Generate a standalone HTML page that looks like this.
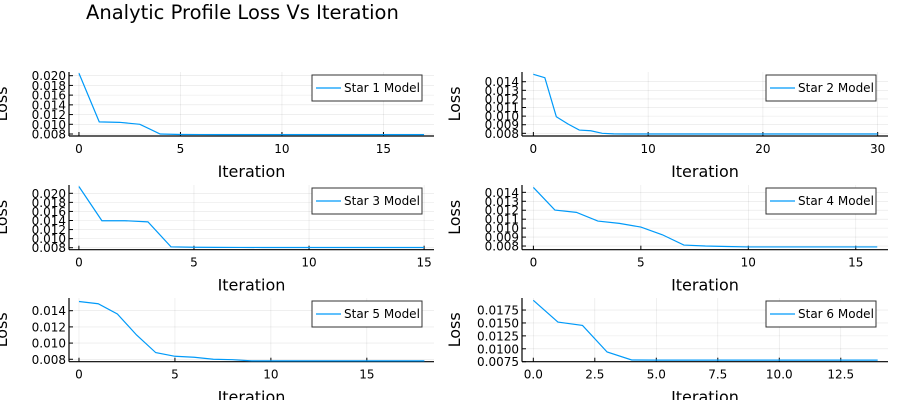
<!DOCTYPE html>
<html><head><meta charset="utf-8"><style>
body{margin:0;background:#fff;}
svg{font-family:"DejaVu Sans","Liberation Sans",sans-serif;}
</style></head><body>
<svg id="c" width="900" height="400" viewBox="0 0 900 400">
<text x="86" y="19" font-size="19.5" fill="#000">Analytic Profile Loss Vs Iteration</text>
</svg>
<script>
const labels = ["Star 1 Model","Star 2 Model","Star 3 Model","Star 4 Model","Star 5 Model","Star 6 Model"];
const series1 = [0.0205,0.0105,0.0104,0.0100,0.0080,0.00790,0.00789,0.00788,0.00788,0.00788,0.00788,0.00788,0.00788,0.00788,0.00788,0.00788,0.00788,0.00788];
const series2 = [0.01486,0.01447,0.00993,0.0091,0.00838,0.0083,0.0080,0.00794,0.00792,0.00792,0.00792,0.00792,0.00792,0.00792,0.00792,0.00792,0.00792,0.00792,0.00792,0.00792,0.00792,0.00792,0.00792,0.00792,0.00792,0.00792,0.00792,0.00792,0.00792,0.00792,0.00792];
const series3 = [0.0215,0.01395,0.01395,0.0137,0.0082,0.0081,0.00808,0.00806,0.00805,0.00805,0.00805,0.00805,0.00805,0.00805,0.00805,0.00805];
const series4 = [0.01455,0.01202,0.01176,0.01079,0.01053,0.01012,0.00926,0.00811,0.0080,0.00795,0.0079,0.0079,0.0079,0.0079,0.0079,0.0079,0.0079];
const series5 = [0.01514,0.01486,0.0136,0.0110,0.00882,0.00837,0.00825,0.0080,0.00795,0.0078,0.0078,0.0078,0.0078,0.0078,0.0078,0.0078,0.0078,0.0078,0.0078];
const series6 = [0.01938,0.01517,0.01452,0.00938,0.00783,0.0078,0.0078,0.0078,0.0078,0.0078,0.0078,0.0078,0.0078,0.0078,0.0078];
const xTicks1 = [0,5,10,15], xTicks2 = [0,10,20,30], xTicks3 = [0,5,10,15], xTicks4 = [0,5,10,15], xTicks5 = [0,5,10,15], xTicks6 = [0,2.5,5,7.5,10,12.5];
const yTicks1 = [0.008,0.010,0.012,0.014,0.016,0.018,0.020];
const yTicks2 = [0.008,0.009,0.010,0.011,0.012,0.013,0.014];
const yTicks3 = [0.008,0.010,0.012,0.014,0.016,0.018,0.020];
const yTicks4 = [0.008,0.009,0.010,0.011,0.012,0.013,0.014];
const yTicks5 = [0.008,0.010,0.012,0.014];
const yTicks6 = [0.0075,0.0100,0.0125,0.0150,0.0175];

const NS="http://www.w3.org/2000/svg";
const svg=document.getElementById('c');
function mk(t,a,parent){const e=document.createElementNS(NS,t);for(const k in a)e.setAttribute(k,a[k]);(parent||svg).appendChild(e);return e;}
const panels=[
 {d:series1,xt:xTicks1,yt:yTicks1,yd:3,xd:0,L:69,R:434,T:72,B:136,xmin:-0.49,xmax:17.49,ymin:0.00759,ymax:0.02076},
 {d:series2,xt:xTicks2,yt:yTicks2,yd:3,xd:0,L:522,R:888,T:72,B:136,xmin:-0.99,xmax:30.9,ymin:0.00769,ymax:0.01513},
 {d:series3,xt:xTicks3,yt:yTicks3,yd:3,xd:0,L:69,R:434,T:185,B:249.7,xmin:-0.43,xmax:15.43,ymin:0.00756,ymax:0.02183},
 {d:series4,xt:xTicks4,yt:yTicks4,yd:3,xd:0,L:522,R:888,T:185,B:249.7,xmin:-0.53,xmax:16.5,ymin:0.00759,ymax:0.01482},
 {d:series5,xt:xTicks5,yt:yTicks5,yd:3,xd:0,L:69,R:434,T:298,B:361.7,xmin:-0.52,xmax:18.5,ymin:0.0077,ymax:0.01557},
 {d:series6,xt:xTicks6,yt:yTicks6,yd:4,xd:1,L:522,R:888,T:298,B:361.7,xmin:-0.46,xmax:14.42,ymin:0.0075,ymax:0.01983}
];
panels.forEach((p,i)=>{
 const g=mk('g',{});
 
 
 const X=v=>p.L+(v-p.xmin)/(p.xmax-p.xmin)*(p.R-p.L);
 const Y=v=>p.B-(v-p.ymin)/(p.ymax-p.ymin)*(p.B-p.T);
 p.xt.forEach(t=>{
  const gl=mk('line',{x1:X(t),x2:X(t),y1:p.T,y2:p.B,stroke:'#000','stroke-opacity':0.1,'stroke-width':0.6},g);
  
  mk('line',{x1:X(t),x2:X(t),y1:p.B,y2:p.B-4,stroke:'#000','stroke-width':1},g);
  const tx=mk('text',{x:X(t),y:p.B+17,'font-size':12,'text-anchor':'middle',fill:'#000'},g);
  tx.textContent=t.toFixed(p.xd);
  
 });
 p.yt.forEach(t=>{
  const gl=mk('line',{x1:p.L,x2:p.R,y1:Y(t),y2:Y(t),stroke:'#000','stroke-opacity':0.1,'stroke-width':0.6},g);
  
  mk('line',{x1:p.L,x2:p.L+4,y1:Y(t),y2:Y(t),stroke:'#000','stroke-width':1},g);
  const tx=mk('text',{x:p.L-3,y:Y(t)+4.5,'font-size':12,'text-anchor':'end',fill:'#000'},g);
  tx.textContent=t.toFixed(p.yd);
  
 });
 mk('line',{x1:p.L,x2:p.R,y1:p.B,y2:p.B,stroke:'#000','stroke-width':1.2},g);
 mk('line',{x1:p.L,x2:p.L,y1:p.T,y2:p.B,stroke:'#000','stroke-width':1.2},g);
 const pts=p.d.map((v,k)=>X(k).toFixed(2)+','+Y(v).toFixed(2)).join(' ');
 const pl=mk('polyline',{points:pts,fill:'none',stroke:'#009af9','stroke-width':1.2},g);
 
 const xl=mk('text',{x:(p.L+p.R)/2,y:p.B+41,'font-size':16,'text-anchor':'middle',fill:'#000'},g);
 xl.textContent='Iteration';
 
 const yx=p.L-62, yy=(p.T+p.B)/2;
 const yl=mk('text',{x:yx,y:yy,'font-size':16,'text-anchor':'middle',fill:'#000',transform:`rotate(-90 ${yx} ${yy})`},g);
 yl.textContent='Loss';
 
 const lgX=p.R-122, lgY=p.T+3;
 const lg=mk('g',{},g);
 
 mk('rect',{x:lgX,y:lgY,width:110,height:26,fill:'#fff',stroke:'#000','stroke-opacity':0.8,'stroke-width':1},lg);
 mk('line',{x1:lgX+4,x2:lgX+29,y1:lgY+13,y2:lgY+13,stroke:'#009af9','stroke-width':1.2},lg);
 const lt=mk('text',{x:lgX+32,y:lgY+17,'font-size':12,fill:'#000'},lg);
 lt.textContent=labels[i];
 
});
</script>
</body></html>
